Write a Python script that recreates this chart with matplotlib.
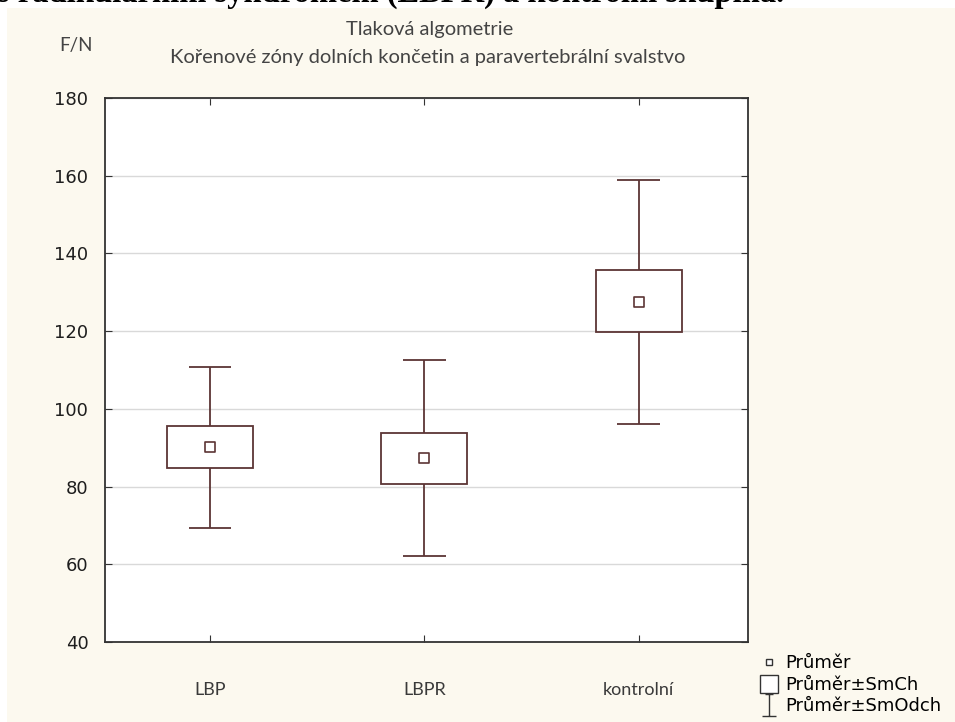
import matplotlib.pyplot as plt
import numpy as np
from matplotlib.lines import Line2D
from matplotlib.path import Path
from matplotlib.patches import Rectangle

# Tlaková algometrie - průměr, ±SmCh, ±SmOdch
skupiny = ["LBP", "LBPR", "kontrolní"]
prumer = [90.2, 87.3, 127.6]
smch_dole = [84.8, 80.7, 119.7]
smch_nahore = [95.5, 93.9, 135.8]
smodch_dole = [69.3, 62.2, 96.2]
smodch_nahore = [110.8, 112.5, 158.9]
y_ticks = [40, 60, 80, 100, 120, 140, 160, 180]

barva = "#5c3535"
krem = "#fcf9ef"

fig = plt.figure(figsize=(9.55, 7.22), dpi=100, facecolor="white")
# krémové pozadí (horní a levý okraj zůstává bílý)
fig.patches.append(Rectangle((7 / 955, 0), 1, 1 - 8 / 722, transform=fig.transFigure,
                             facecolor=krem, edgecolor="none", zorder=-10))

# oříznutý nadpis z dokumentu nahoře
fig.text(-3 / 955, 1 - 2 / 722, "s radikulárním syndromem (LBPR) a kontrolní skupina.",
         fontsize=23.5, fontweight="bold", family="Liberation Serif",
         ha="left", va="baseline", color="black")

ax = fig.add_axes([105 / 955, 1 - 642 / 722, 643 / 955, 544 / 722])
ax.set_facecolor("white")

x = np.arange(len(skupiny))
sirka_boxu = 0.40
sirka_kapky = 0.20

ax.bar(x, np.array(smch_nahore) - np.array(smch_dole), bottom=smch_dole, width=sirka_boxu,
       fill=False, edgecolor=barva, linewidth=1.3, zorder=3)
ax.vlines(x, smch_nahore, smodch_nahore, color=barva, linewidth=1.3, zorder=3)
ax.vlines(x, smodch_dole, smch_dole, color=barva, linewidth=1.3, zorder=3)
ax.hlines(smodch_nahore, x - sirka_kapky / 2, x + sirka_kapky / 2, color=barva, linewidth=1.3, zorder=3)
ax.hlines(smodch_dole, x - sirka_kapky / 2, x + sirka_kapky / 2, color=barva, linewidth=1.3, zorder=3)
ax.scatter(x, prumer, marker="s", s=45, facecolor="white", edgecolor=barva, linewidth=1.2, zorder=4)

ax.set_xlim(-0.49, 2.51)
ax.set_ylim(40, 180)
ax.set_yticks(y_ticks)
ax.set_xticks(x)
ax.set_xticklabels(skupiny, fontsize=13, family="Lato", color="#3a3a3a")
ax.tick_params(axis="x", pad=29, length=5, direction="in", top=True, color="#333333")
ax.tick_params(axis="y", labelsize=13, pad=12, length=5, direction="in", right=True,
               color="#333333", labelcolor="#1e1e1e")
ax.grid(axis="y", color="#d9d9d9", linewidth=1)
ax.set_axisbelow(True)
for s in ax.spines.values():
    s.set_color("#333333")
    s.set_linewidth(1.3)

fig.text(430 / 955, 1 - 30 / 722, "Tlaková algometrie", ha="center", va="center",
         fontsize=14.5, family="Lato", color="#444444")
fig.text(428 / 955, 1 - 57 / 722, "Kořenové zóny dolních končetin a paravertebrální svalstvo",
         ha="center", va="center", fontsize=14.5, family="Lato", color="#444444")
fig.text(76 / 955, 1 - 46 / 722, "F/N", ha="center", va="center",
         fontsize=13.5, family="Lato", color="#444444")

# legenda
i_bar = Path([(-0.35, 1), (0.35, 1), (0, 1), (0, -1), (-0.6, -1), (0.6, -1)],
             [Path.MOVETO, Path.LINETO, Path.MOVETO, Path.LINETO, Path.MOVETO, Path.LINETO])
handles = [
    Line2D([], [], linestyle="none", marker="s", markersize=5, markerfacecolor="white",
           markeredgecolor="#333333", markeredgewidth=1),
    Line2D([], [], linestyle="none", marker="s", markersize=13, markerfacecolor="white",
           markeredgecolor="#333333", markeredgewidth=1),
    Line2D([], [], linestyle="none", marker=i_bar, markersize=16, markerfacecolor="none",
           markeredgecolor="#333333", markeredgewidth=1),
]
fig.legend(handles, ["Průměr", "Průměr±SmCh", "Průměr±SmOdch"], loc="upper left",
           bbox_to_anchor=(753 / 955, 1 - 647 / 722), frameon=False, handlelength=1.0,
           handletextpad=0.4, labelspacing=0.2, borderaxespad=0,
           prop={"family": "DejaVu Sans", "size": 13})

fig.savefig("out.png", dpi=100, facecolor=fig.get_facecolor())
